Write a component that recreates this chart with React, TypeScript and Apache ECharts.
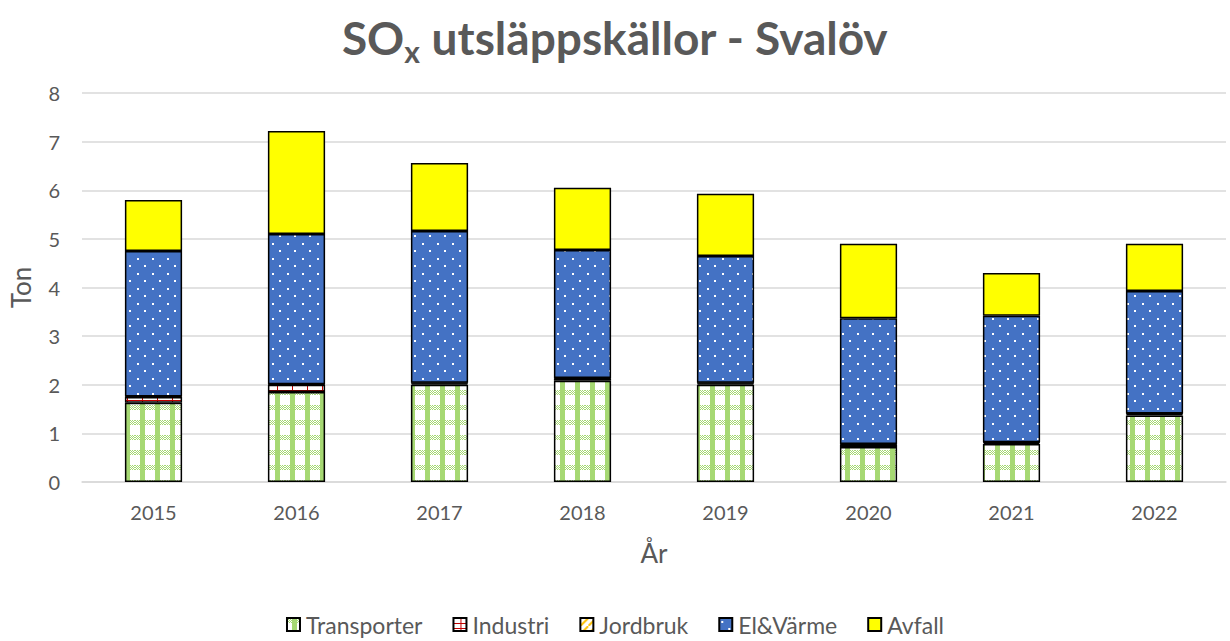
import React, { useEffect, useRef } from "react";
import * as echarts from "echarts";

const years = ["2015", "2016", "2017", "2018", "2019", "2020", "2021", "2022"];
const seriesNames = ["Transporter", "Industri", "Jordbruk", "El&Värme", "Avfall"];
const transporter = [1.63, 1.85, 2.0, 2.08, 2.0, 0.72, 0.78, 1.37];
const industri = [0.12, 0.15, 0.03, 0.05, 0.03, 0.05, 0.03, 0.03];
const jordbruk = [0.01, 0.01, 0.01, 0.01, 0.01, 0.01, 0.01, 0.01];
const elVarme = [2.99, 3.09, 3.12, 2.63, 2.61, 2.59, 2.6, 2.52];
const avfall = [1.05, 2.12, 1.4, 1.28, 1.28, 1.53, 0.88, 0.97];
const yTicks = [0, 1, 2, 3, 4, 5, 6, 7, 8];

function makeCanvas(w: number, h: number, draw: (c: CanvasRenderingContext2D) => void) {
  const cv = document.createElement("canvas");
  cv.width = w;
  cv.height = h;
  const ctx = cv.getContext("2d")!;
  draw(ctx);
  return cv;
}

export default function App() {
  const ref = useRef<HTMLDivElement>(null);
  useEffect(() => {
    if (!ref.current) return;
    const chart = echarts.init(ref.current, undefined, { renderer: "svg" });
    const green = "#a6d873";
    const greenTile = makeCanvas(15, 15, (c) => {
      c.fillStyle = "#ffffff";
      c.fillRect(0, 0, 15, 15);
      c.fillStyle = green;
      c.fillRect(5, 0, 5, 15);
      for (let y = 0; y < 5; y++) {
        for (let x = 0; x < 15; x++) {
          if ((x + y) % 2 === 0) c.fillRect(x, y, 1, 1);
        }
      }
    });
    const blueTile = makeCanvas(15, 15, (c) => {
      c.fillStyle = "#4472c4";
      c.fillRect(0, 0, 15, 15);
      c.fillStyle = "#ffffff";
      c.fillRect(2, 3, 2, 2);
      c.fillRect(9, 10, 2, 2);
    });
    const redTile = makeCanvas(15, 5, (c) => {
      c.fillStyle = "#ffffff";
      c.fillRect(0, 0, 15, 5);
      c.fillStyle = "#c00000";
      c.fillRect(0, 0, 15, 1);
      c.fillRect(7, 0, 1, 5);
    });
    const orangeTile = makeCanvas(8, 8, (c) => {
      c.fillStyle = "#ffffff";
      c.fillRect(0, 0, 8, 8);
      c.strokeStyle = "#ffc000";
      c.lineWidth = 2;
      c.beginPath();
      c.moveTo(-1, 9);
      c.lineTo(9, -1);
      c.stroke();
    });
    const fills: any[] = [
      { image: greenTile, repeat: "repeat" },
      { image: redTile, repeat: "repeat" },
      { image: orangeTile, repeat: "repeat" },
      { image: blueTile, repeat: "repeat" },
      "#ffff00",
    ];
    const datas = [transporter, industri, jordbruk, elVarme, avfall];
    const font = "Lato";
    const gray = "#595959";
    chart.setOption({
      animation: false,
      title: {
        text: "{a|SO}{s|x}{a| utsläppskällor - Svalöv}",
        left: "center",
        top: 2,
        textStyle: {
          rich: {
            a: { fontFamily: font, fontWeight: "bold", fontSize: 46, color: gray, lineHeight: 60 },
            s: { fontFamily: font, fontWeight: "bold", fontSize: 30, color: gray, lineHeight: 60, padding: [28, 0, 0, 0] },
          },
        },
      },
      legend: {
        data: seriesNames,
        bottom: 0,
        left: "center",
        itemGap: 30,
        itemWidth: 13,
        itemHeight: 13,
        icon: "rect",
        textStyle: { fontFamily: font, fontSize: 23, color: gray, padding: [0, 0, 0, 1] },
      },
      grid: { left: 82, right: 4, top: 93, bottom: 159 },
      xAxis: {
        type: "category",
        data: years,
        name: "År",
        nameLocation: "middle",
        nameGap: 58,
        nameTextStyle: { fontFamily: font, fontSize: 26, color: gray },
        axisLine: { lineStyle: { color: "#d9d9d9", width: 1.5 } },
        axisTick: { show: false },
        axisLabel: { fontFamily: font, fontSize: 20, color: gray, margin: 20 },
      },
      yAxis: {
        type: "value",
        min: 0,
        max: 8,
        interval: 1,
        name: "Ton",
        nameLocation: "middle",
        nameGap: 48,
        nameTextStyle: { fontFamily: font, fontSize: 26, color: gray },
        axisLine: { show: false },
        axisTick: { show: false },
        axisLabel: {
          fontFamily: font,
          fontSize: 20,
          color: gray,
          margin: 22,
          formatter: (v: number) => (yTicks.includes(v) ? String(v) : ""),
        },
        splitLine: { lineStyle: { color: "#d9d9d9", width: 1.5 } },
      },
      series: seriesNames.map((name, i) => ({
        name,
        type: "bar",
        stack: "total",
        barWidth: "40%",
        data: datas[i],
        itemStyle: { color: fills[i], borderColor: "#000000", borderWidth: 1.5 },
      })),
    });
    return () => chart.dispose();
  }, []);
  return <div ref={ref} style={{ width: 1230, height: 641, position: "absolute", left: 0, top: 0 }} />;
}
